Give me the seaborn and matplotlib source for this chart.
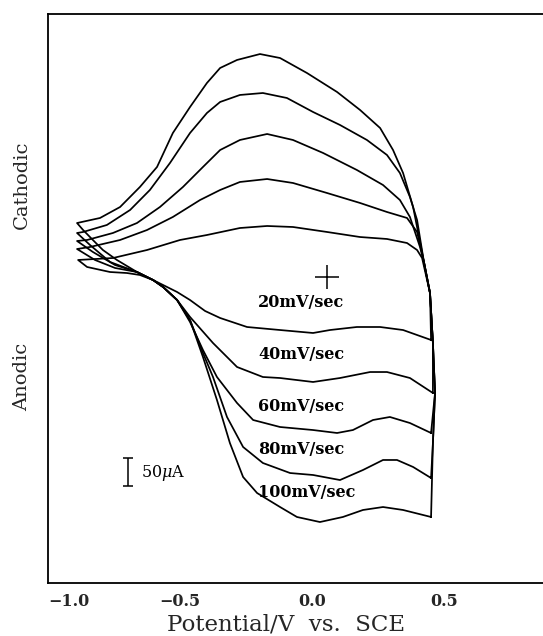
import numpy as np
import pandas as pd
import matplotlib
matplotlib.use("Agg")
import matplotlib.pyplot as plt
import seaborn as sns

# ---- data (potential in V vs SCE, current in uA; cathodic positive) ----
rates = ["20mV/sec", "40mV/sec", "60mV/sec", "80mV/sec", "100mV/sec"]

e_20 = [0.451, 0.447, 0.417, 0.398, 0.360, 0.284, 0.182, 0.057, -0.072, -0.170, -0.273, -0.398, -0.500, -0.625,
        -0.754, -0.886,
        -0.852, -0.765, -0.701, -0.652, -0.602, -0.564, -0.511, -0.462, -0.405, -0.348, -0.246, -0.121, 0.004, 0.068,
        0.170, 0.258, 0.345, 0.451]
i_20 = [-112.5, -28.6, 33.9, 48.2, 60.7, 67.9, 71.4, 80.4, 89.3, 91.1, 87.5, 75.0, 66.1, 48.2,
        33.9, 30.4,
        17.9, 8.9, 7.1, 3.6, -5.4, -14.3, -26.8, -41.1, -60.7, -73.2, -89.3, -94.7, -100.0, -94.7,
        -89.3, -89.3, -94.7, -112.5]

e_40 = [0.458, 0.458, 0.447, 0.424, 0.398, 0.360, 0.284, 0.182, 0.057, -0.072, -0.170, -0.273, -0.348, -0.424,
        -0.527, -0.625, -0.727, -0.841, -0.890,
        -0.822, -0.746, -0.663, -0.602, -0.564, -0.511, -0.462, -0.375, -0.284, -0.186,
        -0.121, 0.004, 0.106, 0.220, 0.284, 0.371, 0.458]
i_40 = [-207.2, -117.9, -28.6, 26.8, 80.4, 105.4, 116.1, 132.2, 150.0, 167.9, 175.0, 169.7, 155.4, 137.5,
        107.2, 83.9, 66.1, 53.6, 50.0,
        30.4, 16.1, 8.9, -5.4, -17.9, -41.1, -71.4, -117.9, -160.7, -178.6,
        -180.4, -187.5, -180.4, -169.7, -169.7, -180.4, -207.2]

e_60 = [0.451, 0.466, 0.458, 0.447, 0.424, 0.409, 0.371, 0.333, 0.269, 0.170, 0.042, -0.072, -0.170, -0.273,
        -0.348, -0.413, -0.489, -0.576, -0.663, -0.754, -0.852, -0.890,
        -0.830, -0.746, -0.663, -0.602, -0.564, -0.511, -0.462, -0.413,
        -0.360, -0.284, -0.223, -0.121, 0.004, 0.095, 0.155, 0.231, 0.295, 0.371, 0.451]
i_60 = [-278.6, -207.2, -117.9, -28.6, 26.8, 53.6, 107.2, 137.5, 164.3, 191.1, 221.5, 244.7, 255.4, 244.7,
        226.8, 196.5, 160.7, 125.0, 96.4, 78.6, 66.1, 64.3,
        44.7, 21.4, 8.9, -5.4, -17.9, -41.1, -80.4, -130.4,
        -178.6, -225.0, -255.4, -267.9, -273.3, -278.6, -273.3, -255.4, -250.0, -260.8, -278.6]

e_80 = [0.451, 0.458, 0.466, 0.458, 0.447, 0.424, 0.398, 0.371, 0.333, 0.284, 0.208, 0.106, 0.004, -0.095,
        -0.186, -0.273, -0.348, -0.398, -0.462, -0.538, -0.614, -0.689, -0.777, -0.867, -0.890,
        -0.841, -0.765, -0.663, -0.602,
        -0.564, -0.511, -0.462, -0.413, -0.375, -0.322, -0.261, -0.186, -0.083, 0.004, 0.106, 0.193, 0.269,
        0.322, 0.383, 0.451]
i_80 = [-359.0, -296.5, -207.2, -117.9, -28.6, 26.8, 101.8, 142.9, 185.7, 217.9, 244.7, 271.5, 294.7, 319.7,
        328.6, 325.1, 312.6, 292.9, 257.2, 203.6, 155.4, 119.7, 92.9, 80.4, 78.6,
        57.2, 26.8, 8.9, -5.4,
        -17.9, -41.1, -76.8, -135.7, -178.6, -250.0, -303.6, -332.2, -350.1, -353.6, -362.6, -344.7, -326.8,
        -326.8, -339.3, -359.0]

e_100 = [0.451, 0.458, 0.466, 0.458, 0.447, 0.424, 0.383, 0.345, 0.307, 0.258, 0.182, 0.095, -0.019, -0.121,
         -0.197, -0.284, -0.348, -0.398, -0.462, -0.527, -0.587, -0.652, -0.727, -0.803, -0.890,
         -0.867, -0.830, -0.792,
         -0.739, -0.663, -0.602, -0.564, -0.511, -0.462, -0.413, -0.360, -0.311, -0.261, -0.208, -0.121, -0.057,
         0.030, 0.117, 0.193, 0.269, 0.345, 0.451]
i_100 = [-428.6, -296.5, -207.2, -117.9, -28.6, 26.8, 125.0, 185.7, 226.8, 266.1, 298.3, 330.4, 364.3, 391.1,
         398.2, 387.6, 373.3, 346.5, 303.6, 257.2, 196.5, 160.7, 125.0, 105.4, 96.4,
         83.9, 66.1, 48.2,
         30.4, 8.9, -5.4, -17.9, -41.1, -76.8, -142.9, -219.7, -296.5, -357.2, -385.8, -410.8, -428.6,
         -437.6, -428.6, -416.1, -410.8, -416.1, -428.6]

label_e = [-0.205, -0.205, -0.205, -0.205, -0.205]
label_i = [-46.4, -139.3, -230.4, -307.2, -384.0]

xtick_major = [-1.0, -0.5, 0.0, 0.5]
xtick_labels = ["\u22121.0", "\u22120.5", "0.0", "0.5"]
xtick_minor = [-0.9, -0.8, -0.7, -0.6, -0.4, -0.3, -0.2, -0.1, 0.1, 0.2, 0.3, 0.4, 0.6, 0.7, 0.8]

scale_e = -0.697
scale_i = -348.3
scale_half = 25.0
cross_e, cross_i = 0.057, 0.0

# ---- build table ----
series = {"20mV/sec": (e_20, i_20), "40mV/sec": (e_40, i_40), "60mV/sec": (e_60, i_60),
          "80mV/sec": (e_80, i_80), "100mV/sec": (e_100, i_100)}
frames = []
for r in rates:
    e, i = series[r]
    frames.append(pd.DataFrame({"E": e, "I": i, "rate": r}))
df = pd.concat(frames, ignore_index=True)

sns.set_style("white")
plt.rcParams["font.family"] = ["DejaVu Serif"]
plt.rcParams["mathtext.fontset"] = "dejavuserif"

fig = plt.figure(figsize=(5.43, 6.36), dpi=100)
ax = fig.add_axes([48 / 543, 1 - 583 / 636, 1 - 48 / 543, (583 - 14) / 636])

sns.lineplot(data=df, x="E", y="I", hue="rate", hue_order=rates, palette=["black"] * 5,
             sort=False, estimator=None, legend=False, lw=1.25, ax=ax)

ax.set_xlim(-1.0, 0.875)
ax.set_ylim(-546.5, 469.7)

for r, le, li in zip(rates, label_e, label_i):
    ax.text(le, li, r, ha="left", va="center", fontsize=11.5, fontweight="bold", color="black")

ax.plot([cross_e], [cross_i], marker="+", markersize=17, mew=1.1, color="black", ls="none")
ax.errorbar([scale_e], [scale_i], yerr=[scale_half], capsize=3.5, capthick=1.1, lw=1.1, color="black")
ax.text(scale_e + 0.05, scale_i - 2, r"50$\mu$A", ha="left", va="center", fontsize=11.5, color="black")

ax.set_xticks(xtick_major)
ax.set_xticklabels(xtick_labels, fontsize=11.5, fontweight="bold")
ax.set_xticks(xtick_minor, minor=True)
ax.set_yticks([])
ax.tick_params(axis="x", which="major", direction="in", length=9.5, width=1.0, pad=7)
ax.tick_params(axis="x", which="minor", direction="in", length=4.5, width=1.0)
ax.get_xticklabels()[0].set_horizontalalignment("left")

ax.set_xlabel("Potential/V  vs.  SCE", fontsize=16.5)
ax.xaxis.set_label_coords((286 - 48) / 495, -0.054)
ax.set_ylabel("")

for s in ["left", "bottom", "top"]:
    ax.spines[s].set_linewidth(1.3)
    ax.spines[s].set_color("black")
ax.spines["right"].set_visible(False)

fig.text(22 / 543, 1 - 185 / 636, "Cathodic", rotation=90, ha="center", va="center", fontsize=14)
fig.text(22 / 543, 1 - 377 / 636, "Anodic", rotation=90, ha="center", va="center", fontsize=14)

fig.savefig("out.png", dpi=100, facecolor="white")
